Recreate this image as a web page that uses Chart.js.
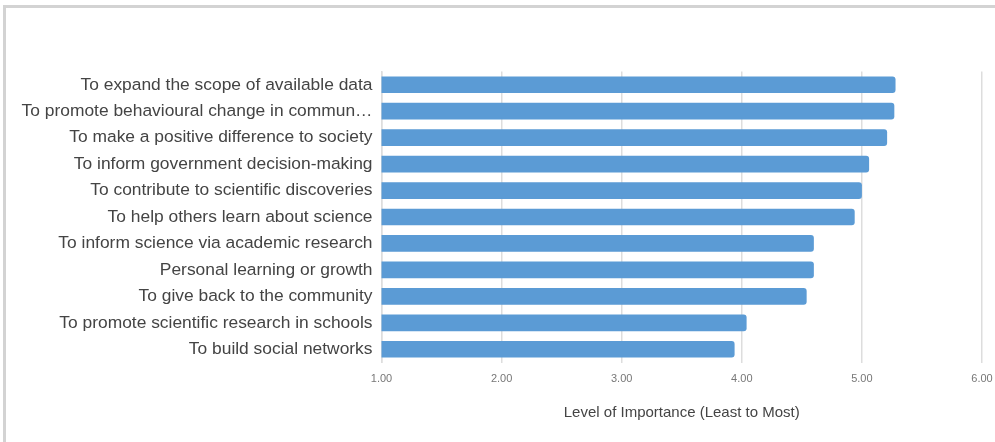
<!DOCTYPE html>
<html>
<head>
  <title>Level of Importance</title>
  <script src="https://cdn.jsdelivr.net/npm/chart.js"></script>
  <style>
    body { margin: 0; background: #fff; overflow: hidden; }
    #frame { position: absolute; left: 3px; top: 5px; width: 1100px; height: 600px; border: 3px solid #d3d3d3; }
    #importanceChart { position: absolute; left: 0; top: 0; }
  </style>
</head>
<body>
  <div id="frame"></div>
  <canvas id="importanceChart" width="995" height="442"></canvas>

  <script>
    const reasons = [
      'To expand the scope of available data',
      'To promote behavioural change in commun\u2026',
      'To make a positive difference to society',
      'To inform government decision-making',
      'To contribute to scientific discoveries',
      'To help others learn about science',
      'To inform science via academic research',
      'Personal learning or growth',
      'To give back to the community',
      'To promote scientific research in schools',
      'To build social networks'
    ];
    const importance = [5.28, 5.27, 5.21, 5.06, 5.00, 4.94, 4.60, 4.60, 4.54, 4.04, 3.94];
    const axisMin = 1;
    const axisMax = 6;
    const axisTitle = 'Level of Importance (Least to Most)';

    const ctx = document.getElementById('importanceChart').getContext('2d');
    new Chart(ctx, {
      type: 'bar',
      data: {
        labels: reasons,
        datasets: [{
          data: importance,
          backgroundColor: '#5b9bd5',
          borderRadius: 3,
          borderSkipped: false,
          barPercentage: 0.63,
          categoryPercentage: 1
        }]
      },
      options: {
        indexAxis: 'y',
        responsive: false,
        animation: false,
        layout: { padding: { top: 71.5, right: 13, bottom: 0, left: 0 } },
        plugins: {
          legend: { display: false },
          tooltip: { enabled: false }
        },
        scales: {
          x: {
            min: axisMin,
            max: axisMax,
            afterFit: s => {
              // fixed axis box so the plot edges line up with the original
              s.height = 79.5;
              s.paddingLeft = 0;
              s.paddingRight = 0;
            },
            grid: { color: '#dddddd', lineWidth: 1.5, drawTicks: false },
            border: { display: false },
            ticks: {
              stepSize: 1,
              padding: 10,
              color: '#777',
              font: { family: 'Liberation Sans', size: 11 },
              callback: v => Number(v).toFixed(2)
            },
            title: {
              display: true,
              text: axisTitle,
              color: '#444',
              font: { family: 'Liberation Sans', size: 15 },
              padding: { top: 0, bottom: 20 }
            }
          },
          y: {
            afterFit: s => { s.width = 381.5; },
            grid: { display: false, drawTicks: false },
            border: { display: true, color: '#dddddd', width: 1.5 },
            ticks: {
              padding: 9,
              color: '#444',
              font: { family: 'Liberation Sans', size: 17.4 }
            }
          }
        }
      }
    });
  </script>
</body>
</html>
